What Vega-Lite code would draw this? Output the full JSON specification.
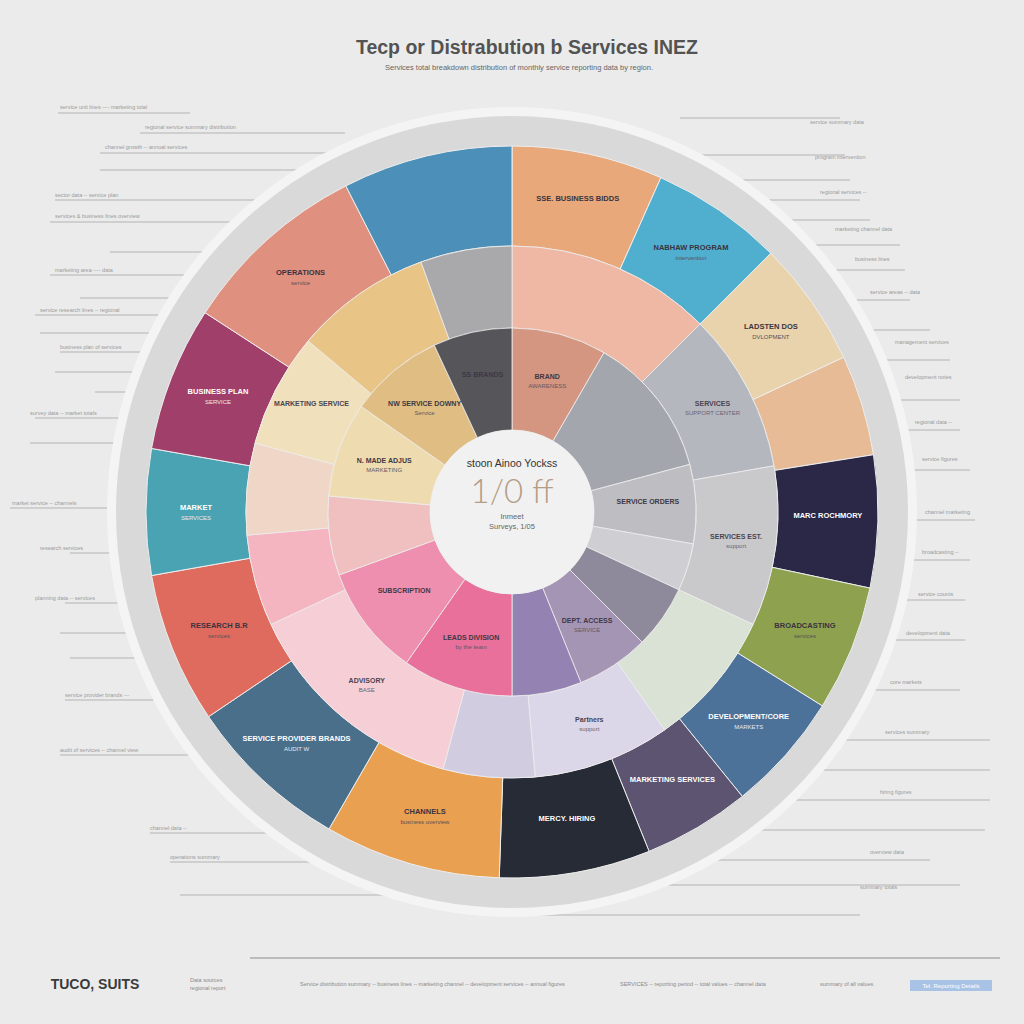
{
  "$schema": "https://vega.github.io/schema/vega-lite/v6.json",
  "width": 1024,
  "height": 1024,
  "autosize": {"type": "fit", "contains": "padding"},
  "padding": 0,
  "background": "#ebebeb",
  "config": {"view": {"stroke": null}, "font": "Liberation Sans"},
  "datasets": {
    "lines": [
      {"x": 58, "x2": 190, "y": 113}, {"x": 140, "x2": 345, "y": 133}, {"x": 100, "x2": 500, "y": 153},
      {"x": 100, "x2": 500, "y": 170}, {"x": 55, "x2": 500, "y": 200}, {"x": 50, "x2": 500, "y": 222},
      {"x": 110, "x2": 500, "y": 252}, {"x": 50, "x2": 500, "y": 275}, {"x": 80, "x2": 500, "y": 298},
      {"x": 35, "x2": 500, "y": 315}, {"x": 40, "x2": 500, "y": 333}, {"x": 60, "x2": 500, "y": 352},
      {"x": 55, "x2": 500, "y": 372}, {"x": 95, "x2": 500, "y": 392}, {"x": 35, "x2": 500, "y": 418},
      {"x": 30, "x2": 500, "y": 443}, {"x": 10, "x2": 500, "y": 508}, {"x": 70, "x2": 500, "y": 553},
      {"x": 65, "x2": 500, "y": 603}, {"x": 60, "x2": 500, "y": 633}, {"x": 70, "x2": 500, "y": 658},
      {"x": 65, "x2": 500, "y": 700}, {"x": 60, "x2": 500, "y": 755}, {"x": 150, "x2": 500, "y": 833},
      {"x": 170, "x2": 500, "y": 862}, {"x": 180, "x2": 500, "y": 895},
      {"x": 680, "x2": 840, "y": 118}, {"x": 520, "x2": 845, "y": 155}, {"x": 520, "x2": 850, "y": 180},
      {"x": 520, "x2": 860, "y": 200}, {"x": 520, "x2": 870, "y": 220}, {"x": 520, "x2": 900, "y": 245},
      {"x": 520, "x2": 905, "y": 270}, {"x": 520, "x2": 910, "y": 300}, {"x": 520, "x2": 930, "y": 330},
      {"x": 520, "x2": 950, "y": 360}, {"x": 520, "x2": 960, "y": 400}, {"x": 520, "x2": 960, "y": 430},
      {"x": 520, "x2": 970, "y": 470}, {"x": 520, "x2": 975, "y": 520}, {"x": 520, "x2": 970, "y": 560},
      {"x": 520, "x2": 965, "y": 600}, {"x": 520, "x2": 965, "y": 640}, {"x": 520, "x2": 960, "y": 690},
      {"x": 520, "x2": 990, "y": 740}, {"x": 520, "x2": 990, "y": 770}, {"x": 520, "x2": 990, "y": 800},
      {"x": 520, "x2": 985, "y": 830}, {"x": 520, "x2": 930, "y": 860}, {"x": 520, "x2": 960, "y": 885},
      {"x": 520, "x2": 860, "y": 915}
    ],
    "notes": [
      {"x": 60, "y": 110, "t": "service unit lines ---- marketing total"},
      {"x": 145, "y": 130, "t": "regional service summary distribution"},
      {"x": 105, "y": 150, "t": "channel growth -- annual services"},
      {"x": 55, "y": 198, "t": "sector data -- service plan"},
      {"x": 55, "y": 219, "t": "services & business lines overview"},
      {"x": 55, "y": 273, "t": "marketing area ---- data"},
      {"x": 40, "y": 313, "t": "service research lines -- regional"},
      {"x": 60, "y": 350, "t": "business plan of services"},
      {"x": 30, "y": 416, "t": "survey data -- market totals"},
      {"x": 12, "y": 506, "t": "market service -- channels"},
      {"x": 40, "y": 551, "t": "research services"},
      {"x": 35, "y": 601, "t": "planning data -- services"},
      {"x": 65, "y": 698, "t": "service provider brands ---"},
      {"x": 60, "y": 753, "t": "audit of services -- channel view"},
      {"x": 150, "y": 831, "t": "channel data --"},
      {"x": 170, "y": 860, "t": "operations summary"},
      {"x": 810, "y": 125, "t": "service summary data"},
      {"x": 815, "y": 160, "t": "program intervention"},
      {"x": 820, "y": 195, "t": "regional services --"},
      {"x": 835, "y": 232, "t": "marketing channel data"},
      {"x": 855, "y": 262, "t": "business lines"},
      {"x": 870, "y": 295, "t": "service areas -- data"},
      {"x": 895, "y": 345, "t": "management services"},
      {"x": 905, "y": 380, "t": "development notes"},
      {"x": 915, "y": 425, "t": "regional data --"},
      {"x": 922, "y": 462, "t": "service figures"},
      {"x": 925, "y": 515, "t": "channel marketing"},
      {"x": 922, "y": 555, "t": "broadcasting --"},
      {"x": 918, "y": 597, "t": "service counts"},
      {"x": 906, "y": 636, "t": "development data"},
      {"x": 890, "y": 685, "t": "core markets"},
      {"x": 885, "y": 735, "t": "services summary"},
      {"x": 880, "y": 795, "t": "hiring figures"},
      {"x": 870, "y": 855, "t": "overview data"},
      {"x": 860, "y": 890, "t": "summary totals"}
    ],
    "outer": [
      {"idx": 0, "seg": "Business Bids", "share": 24, "label": "SSE. BUSINESS BIDDS", "sub": ""},
      {"idx": 1, "seg": "Program", "share": 21, "label": "NABHAW PROGRAM", "sub": "intervention"},
      {"idx": 2, "seg": "Development", "share": 20, "label": "LADSTEN DOS", "sub": "DVLOPMENT"},
      {"idx": 3, "seg": "Consulting", "share": 16, "label": "", "sub": ""},
      {"idx": 4, "seg": "Marketing Channel", "share": 21, "label": "MARC ROCHMORY", "sub": ""},
      {"idx": 5, "seg": "Broadcasting", "share": 20, "label": "BROADCASTING", "sub": "services"},
      {"idx": 6, "seg": "Core Markets", "share": 19, "label": "DEVELOPMENT/CORE", "sub": "MARKETS"},
      {"idx": 7, "seg": "Marketing Services", "share": 17, "label": "MARKETING SERVICES", "sub": ""},
      {"idx": 8, "seg": "Hiring", "share": 24, "label": "MERCY. HIRING", "sub": ""},
      {"idx": 9, "seg": "Channels", "share": 28, "label": "CHANNELS", "sub": "business overview"},
      {"idx": 10, "seg": "Provider Brands", "share": 26, "label": "SERVICE PROVIDER BRANDS", "sub": "AUDIT W"},
      {"idx": 11, "seg": "Research", "share": 24, "label": "RESEARCH B.R", "sub": "services"},
      {"idx": 12, "seg": "Market", "share": 20, "label": "MARKET", "sub": "SERVICES"},
      {"idx": 13, "seg": "Business Plan", "share": 23, "label": "BUSINESS PLAN", "sub": "SERVICE"},
      {"idx": 14, "seg": "Operations", "share": 30, "label": "OPERATIONS", "sub": "service"},
      {"idx": 15, "seg": "Strategy", "share": 27, "label": "", "sub": ""}
    ],
    "middle": [
      {"idx": 0, "seg": "M Peach", "share": 45, "label": "", "sub": ""},
      {"idx": 1, "seg": "M Support", "share": 35, "label": "SERVICES", "sub": "SUPPORT CENTER"},
      {"idx": 2, "seg": "M Estimates", "share": 35, "label": "SERVICES EST.", "sub": "support"},
      {"idx": 3, "seg": "M Green", "share": 30, "label": "", "sub": ""},
      {"idx": 4, "seg": "M Partners", "share": 30, "label": "Partners", "sub": "support"},
      {"idx": 5, "seg": "M Lavender", "share": 20, "label": "", "sub": ""},
      {"idx": 6, "seg": "M Advisory", "share": 50, "label": "ADVISORY", "sub": "BASE"},
      {"idx": 7, "seg": "M Pink", "share": 20, "label": "", "sub": ""},
      {"idx": 8, "seg": "M Pale Peach", "share": 20, "label": "", "sub": ""},
      {"idx": 9, "seg": "M Marketing", "share": 25, "label": "MARKETING SERVICE", "sub": ""},
      {"idx": 10, "seg": "M Yellow", "share": 30, "label": "", "sub": ""},
      {"idx": 11, "seg": "M Grey", "share": 20, "label": "", "sub": ""}
    ],
    "inner": [
      {"idx": 0, "seg": "I Brand", "share": 30, "label": "BRAND", "sub": "AWARENESS"},
      {"idx": 1, "seg": "I Grey", "share": 45, "label": "", "sub": ""},
      {"idx": 2, "seg": "I Orders", "share": 25, "label": "SERVICE ORDERS", "sub": ""},
      {"idx": 3, "seg": "I Light", "share": 15, "label": "", "sub": ""},
      {"idx": 4, "seg": "I Slate", "share": 20, "label": "", "sub": ""},
      {"idx": 5, "seg": "I Access", "share": 23, "label": "DEPT. ACCESS", "sub": "SERVICE"},
      {"idx": 6, "seg": "I Purple", "share": 22, "label": "", "sub": ""},
      {"idx": 7, "seg": "I Leads", "share": 35, "label": "LEADS DIVISION", "sub": "by the team"},
      {"idx": 8, "seg": "I Subscription", "share": 35, "label": "SUBSCRIPTION", "sub": ""},
      {"idx": 9, "seg": "I Pale Pink", "share": 25, "label": "", "sub": ""},
      {"idx": 10, "seg": "I Adjust", "share": 30, "label": "N. MADE ADJUS", "sub": "MARKETING"},
      {"idx": 11, "seg": "I Downy", "share": 30, "label": "NW SERVICE DOWNY", "sub": "Service"},
      {"idx": 12, "seg": "I Brands", "share": 25, "label": "SS BRANDS", "sub": ""}
    ],
    "texts": [
      {"x": 527, "y": 48, "t": "Tecp or Distrabution b Services INEZ", "k": "title"},
      {"x": 519, "y": 68, "t": "Services total breakdown distribution of monthly service reporting data by region.", "k": "sub"},
      {"x": 512, "y": 464, "t": "stoon Ainoo Yockss", "k": "c1"},
      {"x": 512, "y": 493, "t": "1/0 ff", "k": "big"},
      {"x": 512, "y": 517, "t": "Inmeet", "k": "c2"},
      {"x": 512, "y": 527, "t": "Surveys, 1/05", "k": "c2"}
    ],
    "footer": [
      {"x": 95, "y": 985, "t": "TUCO, SUITS"}
    ],
    "footnotes": [
      {"x": 190, "y": 980, "t": "Data sources"},
      {"x": 190, "y": 988, "t": "regional report"},
      {"x": 300, "y": 984, "t": "Service distribution summary -- business lines -- marketing channel -- development services -- annual figures"},
      {"x": 620, "y": 984, "t": "SERVICES -- reporting period -- total values -- channel data"},
      {"x": 820, "y": 984, "t": "summary of all values"}
    ],
    "boxes": [
      {"x": 910, "x2": 992, "y": 980, "y2": 991, "t": "Tel. Reporting Details"}
    ],
    "disc": [{"k": 1}]
  },
  "resolve": {"scale": {"color": "independent"}},
  "layer": [
    {
      "data": {"name": "lines"},
      "mark": {"type": "rule", "color": "#b3b3b3", "strokeWidth": 1},
      "encoding": {
        "x": {"field": "x", "type": "quantitative", "scale": {"domain": [0, 1024], "nice": false, "zero": false}, "axis": null},
        "x2": {"field": "x2"},
        "y": {"field": "y", "type": "quantitative", "scale": {"domain": [0, 1024], "nice": false, "zero": false, "reverse": true}, "axis": null}
      }
    },
    {
      "data": {"name": "notes"},
      "mark": {"type": "text", "fontSize": 5.5, "color": "#9a9a9a", "align": "left", "baseline": "bottom"},
      "encoding": {
        "x": {"field": "x", "type": "quantitative", "scale": {"domain": [0, 1024], "nice": false, "zero": false}, "axis": null},
        "y": {"field": "y", "type": "quantitative", "scale": {"domain": [0, 1024], "nice": false, "zero": false, "reverse": true}, "axis": null},
        "text": {"field": "t"}
      }
    },
    {
      "data": {"name": "disc"},
      "mark": {"type": "arc", "radius": 405, "theta": 0, "theta2": 6.2832, "fill": "#f4f4f4"},
      "encoding": {}
    },
    {
      "data": {"name": "disc"},
      "mark": {"type": "arc", "radius": 396, "theta": 0, "theta2": 6.2832, "fill": "#d9d9d9"},
      "encoding": {}
    },
    {
      "data": {"name": "outer"},
      "encoding": {
        "theta": {"field": "share", "type": "quantitative", "stack": true},
        "order": {"field": "idx", "type": "quantitative"}
      },
      "layer": [
        {
          "mark": {"type": "arc", "innerRadius": 266, "outerRadius": 366, "stroke": "#eeeeee", "strokeWidth": 1},
          "encoding": {
            "color": {
              "field": "seg", "type": "nominal", "legend": null,
              "scale": {
                "domain": ["Business Bids", "Program", "Development", "Consulting", "Marketing Channel", "Broadcasting", "Core Markets", "Marketing Services", "Hiring", "Channels", "Provider Brands", "Research", "Market", "Business Plan", "Operations", "Strategy"],
                "range": ["#e8a87a", "#50afcf", "#e9d3ac", "#e6bb95", "#2b2847", "#8da14e", "#4d7299", "#5c5470", "#262b36", "#e9a050", "#4a6f8a", "#df6b5e", "#4aa3b3", "#a0406a", "#e0907f", "#4c8fb8"]
              }
            }
          }
        },
        {
          "mark": {"type": "text", "radius": 316, "fontSize": 7.5, "fontWeight": "bold", "dy": -4},
          "encoding": {
            "detail": {"field": "seg"},
            "text": {"field": "label"},
            "color": {"condition": {"test": "indexof(['Marketing Channel','Core Markets','Marketing Services','Hiring','Provider Brands','Market','Business Plan'], datum.seg) >= 0", "value": "#ffffff"}, "value": "#3a3340"}
          }
        },
        {
          "mark": {"type": "text", "radius": 316, "fontSize": 6, "dy": 6},
          "encoding": {
            "detail": {"field": "seg"},
            "text": {"field": "sub"},
            "color": {"condition": {"test": "indexof(['Marketing Channel','Core Markets','Marketing Services','Hiring','Provider Brands','Market','Business Plan'], datum.seg) >= 0", "value": "#e8e8f0"}, "value": "#5a5058"}
          }
        }
      ]
    },
    {
      "data": {"name": "middle"},
      "encoding": {
        "theta": {"field": "share", "type": "quantitative", "stack": true},
        "order": {"field": "idx", "type": "quantitative"}
      },
      "layer": [
        {
          "mark": {"type": "arc", "innerRadius": 184, "outerRadius": 266, "stroke": "#eeeeee", "strokeWidth": 0.8},
          "encoding": {
            "color": {
              "field": "seg", "type": "nominal", "legend": null,
              "scale": {
                "domain": ["M Peach", "M Support", "M Estimates", "M Green", "M Partners", "M Lavender", "M Advisory", "M Pink", "M Pale Peach", "M Marketing", "M Yellow", "M Grey"],
                "range": ["#eeb8a4", "#b5b7bf", "#c9c9cc", "#d9e2d4", "#dcd7e8", "#d2cce0", "#f6cfd6", "#f4b4c0", "#efd6c6", "#f1e0bc", "#e8c487", "#a9a9ab"]
              }
            }
          }
        },
        {
          "mark": {"type": "text", "radius": 226, "fontSize": 7, "fontWeight": "bold", "dy": -4, "color": "#4a4450"},
          "encoding": {"detail": {"field": "seg"}, "text": {"field": "label"}}
        },
        {
          "mark": {"type": "text", "radius": 226, "fontSize": 6, "dy": 5, "color": "#6a6470"},
          "encoding": {"detail": {"field": "seg"}, "text": {"field": "sub"}}
        }
      ]
    },
    {
      "data": {"name": "inner"},
      "encoding": {
        "theta": {"field": "share", "type": "quantitative", "stack": true},
        "order": {"field": "idx", "type": "quantitative"}
      },
      "layer": [
        {
          "mark": {"type": "arc", "innerRadius": 82, "outerRadius": 184, "stroke": "#eeeeee", "strokeWidth": 0.8},
          "encoding": {
            "color": {
              "field": "seg", "type": "nominal", "legend": null,
              "scale": {
                "domain": ["I Brand", "I Grey", "I Orders", "I Light", "I Slate", "I Access", "I Purple", "I Leads", "I Subscription", "I Pale Pink", "I Adjust", "I Downy", "I Brands"],
                "range": ["#d49680", "#a4a6ae", "#bdbdc2", "#cfcfd3", "#8e8a9c", "#a595b5", "#9482b2", "#e8709a", "#ee8fb0", "#f0c0c0", "#eedcb0", "#e0bd82", "#55555a"]
              }
            }
          }
        },
        {
          "mark": {"type": "text", "radius": 136, "fontSize": 7, "fontWeight": "bold", "dy": -4, "color": "#3e3844"},
          "encoding": {"detail": {"field": "seg"}, "text": {"field": "label"}}
        },
        {
          "mark": {"type": "text", "radius": 136, "fontSize": 6, "dy": 5, "color": "#5e5864"},
          "encoding": {"detail": {"field": "seg"}, "text": {"field": "sub"}}
        }
      ]
    },
    {
      "data": {"name": "disc"},
      "mark": {"type": "arc", "radius": 82, "theta": 0, "theta2": 6.2832, "fill": "#f1f1f1"},
      "encoding": {}
    },
    {
      "data": {"name": "texts"},
      "transform": [{"filter": "datum.k == 'title'"}],
      "mark": {"type": "text", "fontSize": 19.5, "fontWeight": "bold", "color": "#535353"},
      "encoding": {
        "x": {"field": "x", "type": "quantitative", "scale": {"domain": [0, 1024], "nice": false, "zero": false}, "axis": null},
        "y": {"field": "y", "type": "quantitative", "scale": {"domain": [0, 1024], "nice": false, "zero": false, "reverse": true}, "axis": null},
        "text": {"field": "t"}
      }
    },
    {
      "data": {"name": "texts"},
      "transform": [{"filter": "datum.k == 'sub'"}],
      "mark": {"type": "text", "fontSize": 7.5, "color": "#666666"},
      "encoding": {
        "x": {"field": "x", "type": "quantitative", "scale": {"domain": [0, 1024], "nice": false, "zero": false}, "axis": null},
        "y": {"field": "y", "type": "quantitative", "scale": {"domain": [0, 1024], "nice": false, "zero": false, "reverse": true}, "axis": null},
        "text": {"field": "t"}
      }
    },
    {
      "data": {"name": "texts"},
      "transform": [{"filter": "datum.k == 'c1'"}],
      "mark": {"type": "text", "fontSize": 10.5, "color": "#333333"},
      "encoding": {
        "x": {"field": "x", "type": "quantitative", "scale": {"domain": [0, 1024], "nice": false, "zero": false}, "axis": null},
        "y": {"field": "y", "type": "quantitative", "scale": {"domain": [0, 1024], "nice": false, "zero": false, "reverse": true}, "axis": null},
        "text": {"field": "t"}
      }
    },
    {
      "data": {"name": "texts"},
      "transform": [{"filter": "datum.k == 'big'"}],
      "mark": {"type": "text", "fontSize": 33, "font": "Lato", "fontWeight": 300, "color": "#b49c86"},
      "encoding": {
        "x": {"field": "x", "type": "quantitative", "scale": {"domain": [0, 1024], "nice": false, "zero": false}, "axis": null},
        "y": {"field": "y", "type": "quantitative", "scale": {"domain": [0, 1024], "nice": false, "zero": false, "reverse": true}, "axis": null},
        "text": {"field": "t"}
      }
    },
    {
      "data": {"name": "texts"},
      "transform": [{"filter": "datum.k == 'c2'"}],
      "mark": {"type": "text", "fontSize": 7.5, "color": "#666666"},
      "encoding": {
        "x": {"field": "x", "type": "quantitative", "scale": {"domain": [0, 1024], "nice": false, "zero": false}, "axis": null},
        "y": {"field": "y", "type": "quantitative", "scale": {"domain": [0, 1024], "nice": false, "zero": false, "reverse": true}, "axis": null},
        "text": {"field": "t"}
      }
    },
    {
      "data": {"values": [{"x": 250, "x2": 1000, "y": 958}]},
      "mark": {"type": "rule", "color": "#8c8c8c", "strokeWidth": 1.2},
      "encoding": {
        "x": {"field": "x", "type": "quantitative", "scale": {"domain": [0, 1024], "nice": false, "zero": false}, "axis": null},
        "x2": {"field": "x2"},
        "y": {"field": "y", "type": "quantitative", "scale": {"domain": [0, 1024], "nice": false, "zero": false, "reverse": true}, "axis": null}
      }
    },
    {
      "data": {"name": "footer"},
      "mark": {"type": "text", "fontSize": 14, "fontWeight": "bold", "color": "#3a3a3a"},
      "encoding": {
        "x": {"field": "x", "type": "quantitative", "scale": {"domain": [0, 1024], "nice": false, "zero": false}, "axis": null},
        "y": {"field": "y", "type": "quantitative", "scale": {"domain": [0, 1024], "nice": false, "zero": false, "reverse": true}, "axis": null},
        "text": {"field": "t"}
      }
    },
    {
      "data": {"name": "footnotes"},
      "mark": {"type": "text", "fontSize": 5.5, "color": "#8a8a8a", "align": "left"},
      "encoding": {
        "x": {"field": "x", "type": "quantitative", "scale": {"domain": [0, 1024], "nice": false, "zero": false}, "axis": null},
        "y": {"field": "y", "type": "quantitative", "scale": {"domain": [0, 1024], "nice": false, "zero": false, "reverse": true}, "axis": null},
        "text": {"field": "t"}
      }
    },
    {
      "data": {"name": "boxes"},
      "mark": {"type": "rect", "fill": "#a9c3e6"},
      "encoding": {
        "x": {"field": "x", "type": "quantitative", "scale": {"domain": [0, 1024], "nice": false, "zero": false}, "axis": null},
        "x2": {"field": "x2"},
        "y": {"field": "y", "type": "quantitative", "scale": {"domain": [0, 1024], "nice": false, "zero": false, "reverse": true}, "axis": null},
        "y2": {"field": "y2"}
      }
    },
    {
      "data": {"name": "boxes"},
      "transform": [{"calculate": "(datum.x + datum.x2) / 2", "as": "xm"}, {"calculate": "(datum.y + datum.y2) / 2", "as": "ym"}],
      "mark": {"type": "text", "fontSize": 6, "color": "#ffffff"},
      "encoding": {
        "x": {"field": "xm", "type": "quantitative", "scale": {"domain": [0, 1024], "nice": false, "zero": false}, "axis": null},
        "y": {"field": "ym", "type": "quantitative", "scale": {"domain": [0, 1024], "nice": false, "zero": false, "reverse": true}, "axis": null},
        "text": {"field": "t"}
      }
    }
  ]
}
